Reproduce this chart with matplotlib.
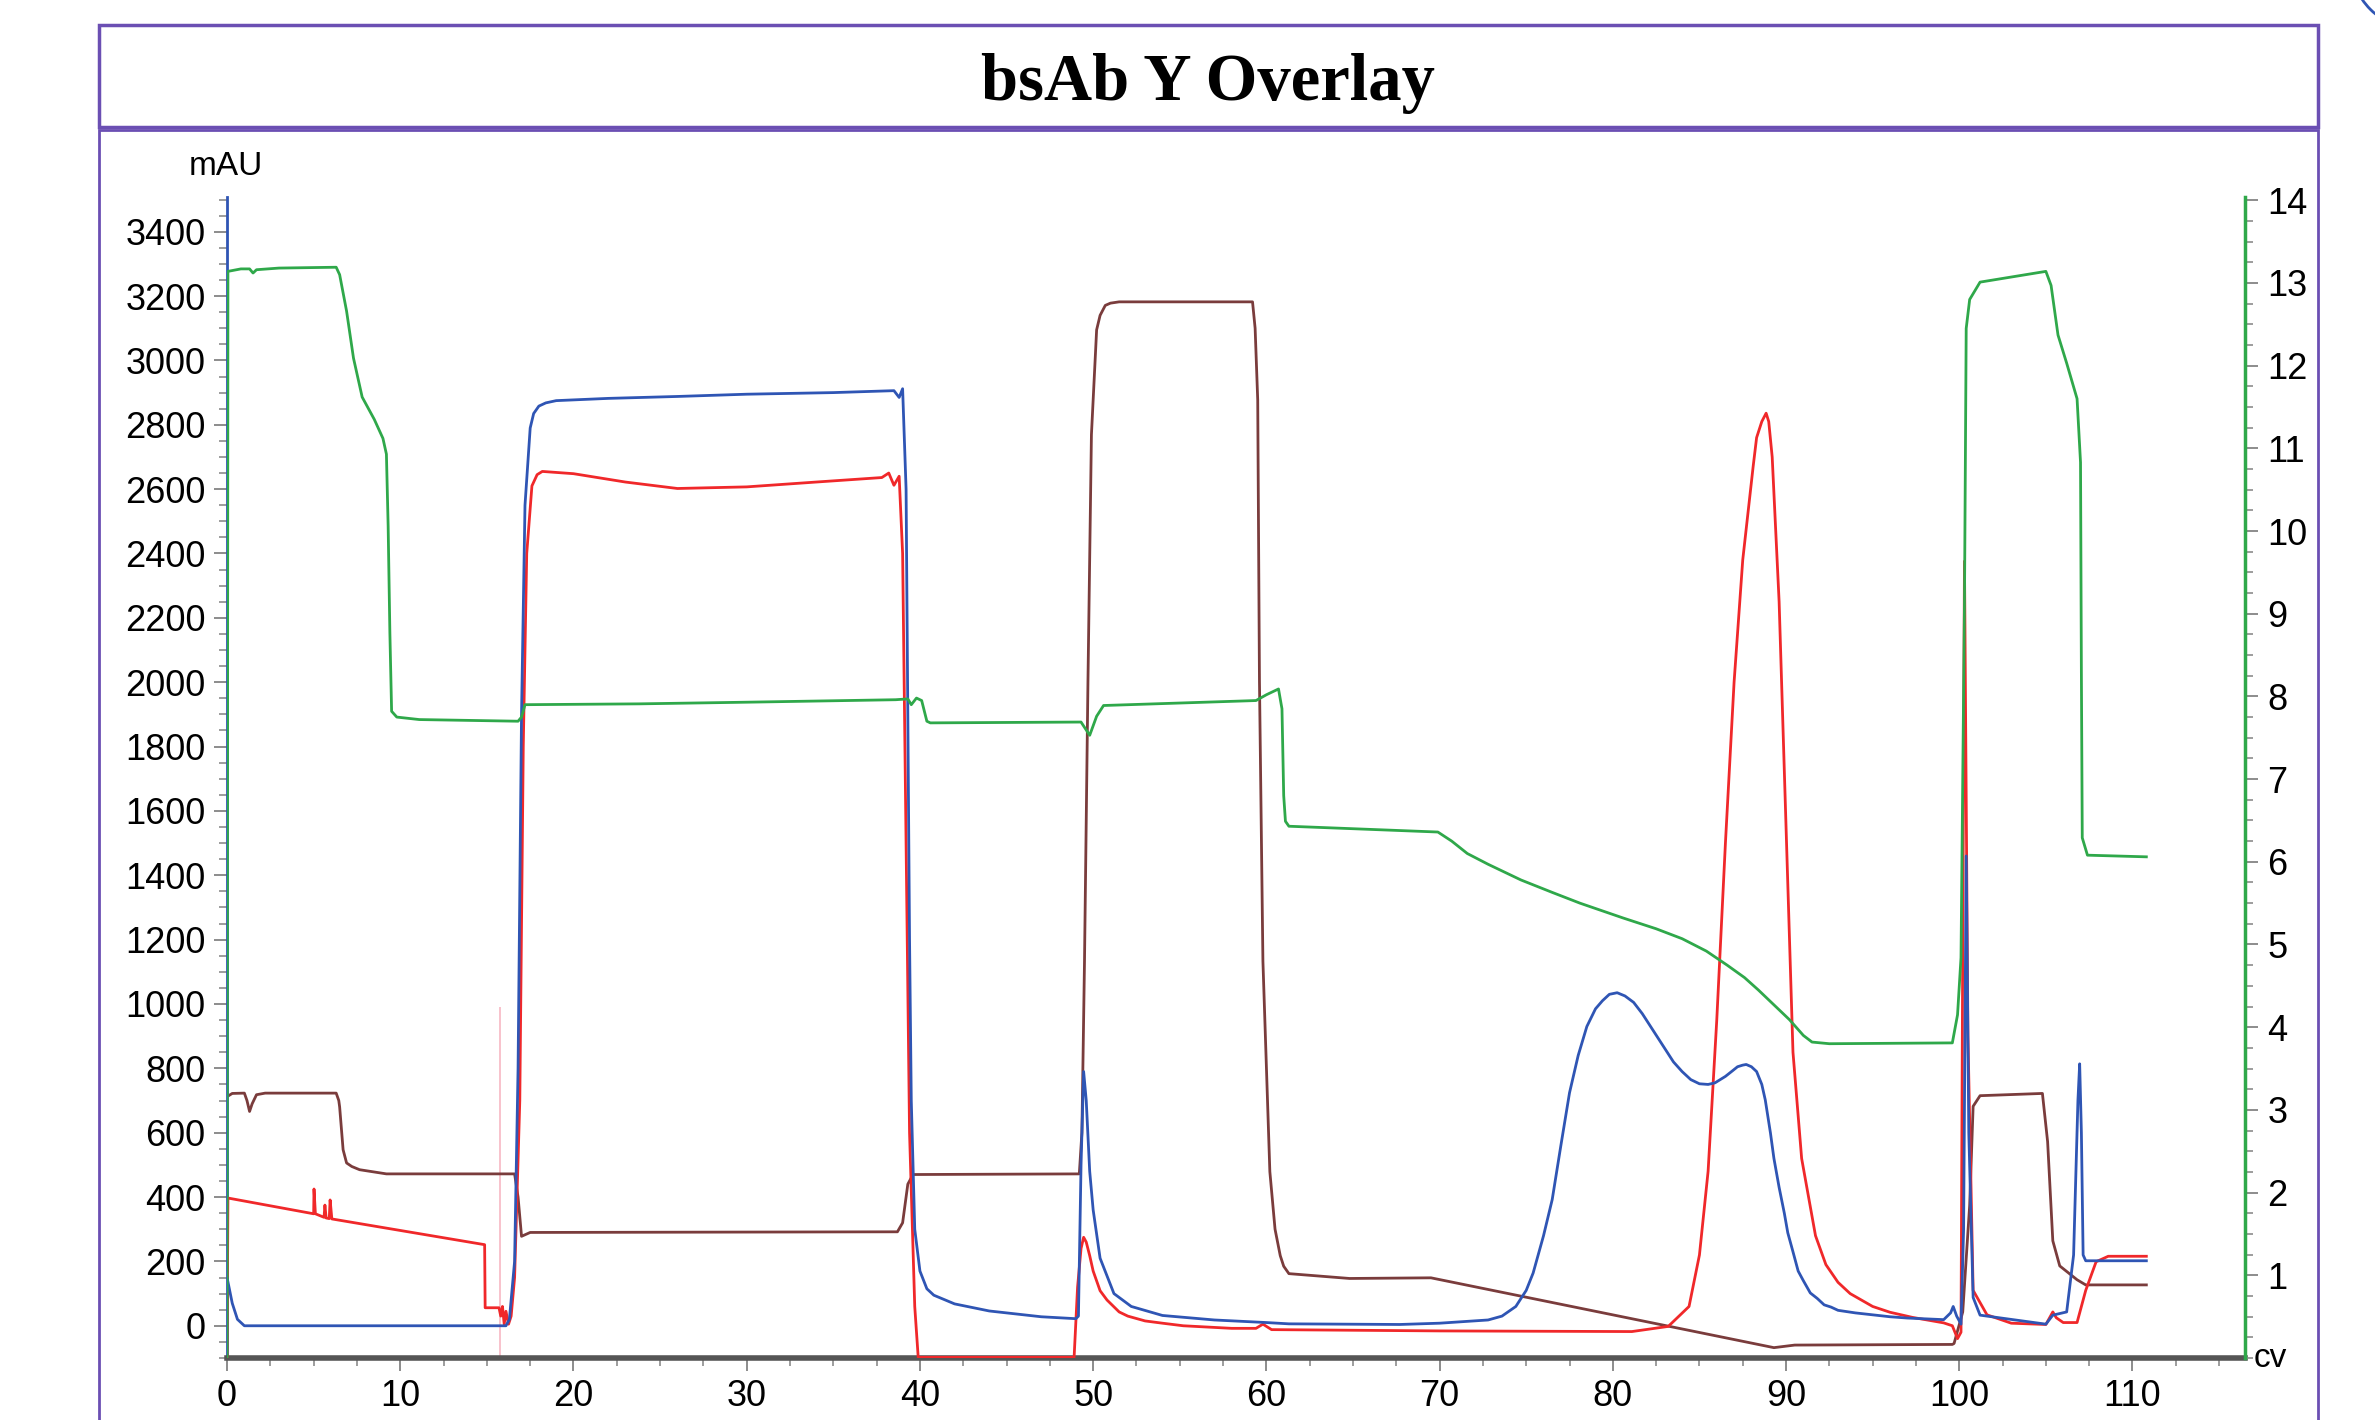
import numpy as np
import matplotlib
matplotlib.use("Agg")
import matplotlib.pyplot as plt
from matplotlib.patches import Rectangle, Circle
from matplotlib.ticker import MultipleLocator

#%% data (x in CV)
blue_x = [0, 0.3, 0.6, 1.0, 16.1, 16.3, 16.6, 16.8, 17.0, 17.2, 17.5, 17.7, 18.0, 18.4, 19.0,
          22.0, 26.0, 30.0, 35.0, 38.5, 38.8, 39.0, 39.2, 39.4, 39.5, 39.7, 40.0, 40.4, 40.8,
          42.0, 44.0, 47.0, 49.0, 49.15, 49.3, 49.45, 49.6, 49.8, 50.0, 50.4, 51.2, 52.2,
          54.0, 57.0, 60.0, 61.3, 67.7, 70.0, 72.8, 73.6, 74.4, 75.0, 75.4, 76.0, 76.5, 77.0,
          77.5, 78.0, 78.5, 79.0, 79.4, 79.8, 80.25, 80.7, 81.2, 81.7, 82.3, 82.9, 83.5, 84.0,
          84.5, 85.0, 85.5, 85.9, 86.5, 86.9, 87.2, 87.5, 87.7, 88.0, 88.3, 88.6, 88.8, 89.1,
          89.3, 89.6, 89.9, 90.1, 90.4, 90.7, 91.0, 91.4, 91.8, 92.2, 92.6, 93.0, 94.0, 96.0,
          97.0, 99.1, 99.5, 99.65, 99.85, 100.1, 100.25, 100.4, 100.55, 100.8, 101.2, 105.0,
          105.4, 106.2, 106.6, 106.85, 106.95, 107.05, 107.15, 107.3, 110.8]
blue_y = [150, 70, 20, 0, 0, 20, 200, 800, 1900, 2550, 2790, 2835, 2858, 2868, 2875,
          2882, 2888, 2895, 2900, 2906, 2885, 2912, 2600, 1200, 700, 300, 170, 115, 95,
          68, 46, 28, 22, 30, 500, 790, 700, 480, 360, 210, 100, 60,
          32, 18, 10, 6, 4, 8, 18, 30, 60, 110, 164, 280, 392, 560,
          724, 840, 930, 985, 1010, 1030, 1035, 1025, 1005, 970, 920, 870, 820, 790,
          765, 752, 750, 755, 775, 792, 805, 810, 812, 805, 790, 750, 702, 599,
          520, 430, 350, 289, 230, 170, 140, 102, 85, 65, 58, 48, 40, 28,
          24, 19, 40, 60, 30, 5, 300, 1460, 600, 88, 33, 5,
          33, 43, 220, 700, 814, 600, 220, 202, 202]

red_x = [0, 0.05, 5.0, 5.02, 5.1, 5.6, 5.65, 5.72, 5.9, 5.95, 6.05, 14.87, 14.9, 15.7, 15.8,
         15.9, 16.0, 16.1, 16.25, 16.4, 16.6, 16.9, 17.1, 17.3, 17.6, 17.9, 18.2, 20.0, 23.0,
         26.0, 30.0, 34.0, 37.8, 38.2, 38.5, 38.8, 39.0, 39.2, 39.4, 39.7, 39.9, 48.9, 49.1,
         49.3, 49.45, 49.6, 49.8, 50.0, 50.4, 50.8, 51.5, 52.0, 53.0, 54.0, 55.2, 58.0, 59.4,
         59.8, 60.3, 70.0, 81.1, 83.2, 84.4, 85.0, 85.5, 86.0, 86.5, 87.0, 87.5, 88.1, 88.3,
         88.6, 88.85, 89.0, 89.2, 89.6, 90.0, 90.4, 90.9, 91.7, 92.3, 93.0, 93.7, 95.0, 96.0,
         97.3, 99.1, 99.6, 99.9, 100.1, 100.3, 100.5, 100.8, 101.6, 103.0, 105.0, 105.4, 105.6,
         106.0, 106.8, 107.3, 107.9, 108.6, 110.8]
red_y = [-100, 397, 348, 425, 348, 337, 375, 335, 333, 391, 332, 252, 56, 56, 30,
         60, 5, 45, 5, 30, 150, 700, 1800, 2400, 2610, 2645, 2655, 2648, 2622,
         2602, 2607, 2622, 2636, 2650, 2612, 2640, 2400, 1500, 600, 60, -98, -98, 120,
         240, 275, 260, 218, 170, 109, 80, 43, 30, 15, 8, 0, -8, -8,
         5, -12, -16, -18, -2, 60, 220, 480, 950, 1500, 2000, 2380, 2670, 2760,
         2810, 2836, 2810, 2700, 2250, 1550, 850, 520, 280, 190, 135, 100, 60, 42,
         26, 9, 0, -40, -20, 2376, 900, 110, 34, 8, 4, 43, 25,
         10, 10, 110, 199, 216, 216]

brown_x = [0, 0.3, 1.0, 1.15, 1.3, 1.45, 1.7, 2.2, 6.3, 6.45, 6.5, 6.7, 6.9, 7.2, 7.65, 9.2,
           16.6, 16.8, 17.0, 17.5, 38.7, 39.0, 39.3, 39.6, 49.2, 49.35, 49.5, 49.7, 49.9, 50.2,
           50.4, 50.7, 51.0, 51.5, 59.2, 59.35, 59.5, 59.6, 59.8, 60.2, 60.5, 60.8, 61.0,
           61.3, 64.8, 69.5, 89.3, 90.5, 99.6, 99.7, 100.2, 100.6, 100.8, 101.2, 104.8,
           105.1, 105.4, 105.8, 106.8, 107.3, 110.8]
brown_y = [712, 722, 723, 700, 666, 690, 718, 723, 723, 700, 680, 547, 506, 495, 485, 472,
           472, 400, 278, 290, 292, 320, 440, 470, 472, 600, 1133, 2004, 2769, 3095,
           3140, 3171, 3178, 3182, 3182, 3100, 2877, 2004, 1133, 479, 300, 218, 185,
           162, 147, 149, -68, -60, -58, -55, 43, 374, 682, 715, 722,
           572, 264, 186, 143, 127, 127]

# conductivity-like trace on the right axis (cv scale)
green_x = [0, 0.05, 0.8, 1.3, 1.5, 1.7, 3.0, 6.3, 6.5, 6.9, 7.3, 7.8, 8.5, 9.0, 9.2, 9.3,
           9.4, 9.5, 9.8, 11.1, 16.8, 17.0, 17.2, 23.8, 30.0, 38.6, 39.3, 39.5, 39.8, 40.1,
           40.4, 40.6, 49.3, 49.8, 50.2, 50.6, 59.4, 60.0, 60.7, 60.9, 61.0, 61.1, 61.3, 65.0,
           69.9, 70.7, 71.6, 72.8, 74.7, 76.5, 78.1, 80.6, 82.5, 84.0, 85.4, 86.6, 87.6, 88.4,
           89.3, 90.2, 91.0, 91.5, 92.5, 99.6, 99.9, 100.1, 100.3, 100.4, 100.6, 101.2, 105.0,
           105.3, 105.7, 106.2, 106.8, 107.0, 107.05, 107.1, 107.4, 110.8]
green_y = [0, 13.14, 13.17, 13.17, 13.12, 13.16, 13.18, 13.19, 13.1, 12.66, 12.09, 11.62,
           11.35, 11.12, 10.93, 10.06, 8.77, 7.82, 7.75, 7.72, 7.70, 7.75, 7.9, 7.91, 7.93,
           7.96, 7.97, 7.9, 7.98, 7.95, 7.7, 7.68, 7.69, 7.53, 7.76, 7.89, 7.95, 8.02, 8.09,
           7.85, 6.8, 6.49, 6.43, 6.40, 6.36, 6.25, 6.10, 5.97, 5.78, 5.63, 5.50, 5.32,
           5.19, 5.07, 4.92, 4.75, 4.6, 4.45, 4.27, 4.09, 3.9, 3.82, 3.80, 3.81, 4.15, 4.84,
           9.12, 12.45, 12.8, 13.01, 13.14, 12.97, 12.37, 12.03, 11.6, 10.83, 8.26, 6.29,
           6.08, 6.06]

inject_x = 15.77
inject_top = 990

left_ticks = np.arange(0, 3401, 200)
right_ticks = np.arange(1, 15, 1)
x_ticks = np.arange(0, 111, 10)

#%% figure
c_blue = '#2f55b4'
c_red = '#f0282a'
c_brown = '#7a3c3c'
c_green = '#2fa84a'
c_frame = '#6b4fb3'
c_tick = '#8c8c8c'

plt.rcParams['font.family'] = ['Liberation Sans', 'DejaVu Sans']

fig = plt.figure(figsize=(23.75, 14.2), dpi=100)
fig.patches.append(Rectangle((0.0415, 0.9106), 0.9345, 0.0718, transform=fig.transFigure,
                             fill=False, edgecolor=c_frame, linewidth=2.5))
fig.patches.append(Rectangle((0.0415, -0.05), 0.9345, 0.9585, transform=fig.transFigure,
                             fill=False, edgecolor=c_frame, linewidth=2.0))
# bit of a rounded shape peeking in at the top right corner
fig.patches.append(Circle((24.2, 14.6), 0.7, transform=fig.dpi_scale_trans,
                          fill=False, edgecolor=c_blue, linewidth=2.0))
fig.text(0.5088, 0.9415, 'bsAb Y Overlay', ha='center', va='center',
         family='Liberation Serif', fontweight='bold', fontsize=48)

ax = fig.add_axes([0.0956, 0.0437, 0.8497, 0.8176])
ax.vlines(inject_x, -100, inject_top, color='#f7b8c4', linewidth=1.2, zorder=1)
ax.plot(brown_x, brown_y, color=c_brown, linewidth=2.0, zorder=2)
ax.plot(red_x, red_y, color=c_red, linewidth=2.0, zorder=3)
ax.plot(blue_x, blue_y, color=c_blue, linewidth=2.0, zorder=4)
ax.set_xlim(0, 116.5)
ax.set_ylim(-100, 3508)

ax2 = ax.twinx()
ax2.plot(green_x, green_y, color=c_green, linewidth=2.0)
ax2.set_ylim(0, 14.04)

for s in ['top', 'right']:
    ax.spines[s].set_visible(False)
for s in ['top', 'left', 'bottom']:
    ax2.spines[s].set_visible(False)
ax.spines['left'].set_color(c_blue)
ax.spines['left'].set_linewidth(2.0)
ax.spines['bottom'].set_color('#555555')
ax.spines['bottom'].set_linewidth(4.0)
ax2.spines['right'].set_color(c_green)
ax2.spines['right'].set_linewidth(2.5)

ax.set_yticks(left_ticks)
ax.yaxis.set_minor_locator(MultipleLocator(50))
ax.set_xticks(x_ticks)
ax.xaxis.set_minor_locator(MultipleLocator(2.5))
ax2.set_yticks(right_ticks)
ax2.yaxis.set_minor_locator(MultipleLocator(0.25))

ax.tick_params(axis='both', which='major', direction='out', length=9.5, width=1.4,
               color=c_tick, labelsize=26, pad=6)
ax.tick_params(axis='both', which='minor', direction='out', length=6, width=1.2, color=c_tick)
ax2.tick_params(axis='y', which='major', direction='out', length=9, width=1.4,
                color=c_tick, labelsize=26, pad=7)
ax2.tick_params(axis='y', which='minor', direction='out', length=6, width=1.2, color=c_tick)

fig.text(0.0952, 0.8824, 'mAU', ha='center', va='center', fontsize=24)
fig.text(0.9558, 0.0430, 'cv', ha='center', va='center', fontsize=24)

plt.savefig('out.png', dpi=100)
